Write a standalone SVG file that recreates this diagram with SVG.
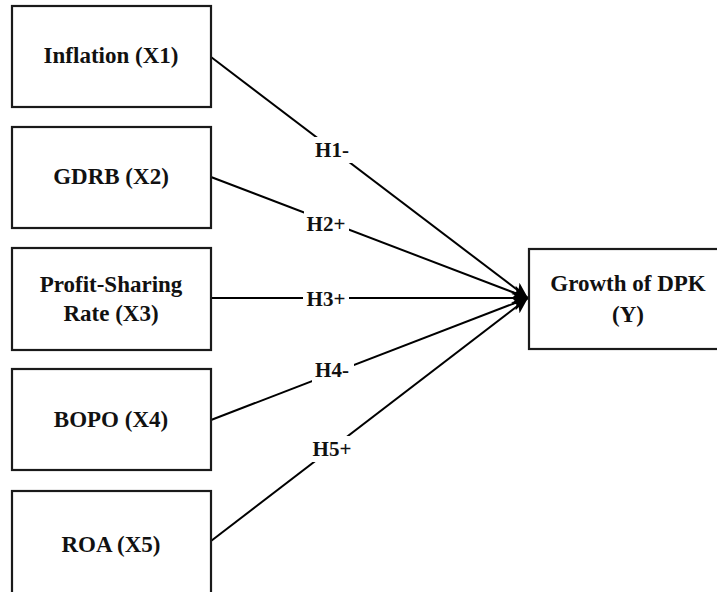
<svg xmlns="http://www.w3.org/2000/svg" width="717" height="592" viewBox="0 0 717 592">
<style>
.box{fill:#fff;stroke:#1a1a1a;stroke-width:2.2}
.t{font-family:'Liberation Serif','Times New Roman',serif;font-weight:700;font-size:23px;fill:#111;text-anchor:middle}
.lab{font-family:'Liberation Serif','Times New Roman',serif;font-weight:700;font-size:21px;fill:#111;text-anchor:middle}
.edge{stroke:#000;stroke-width:2;fill:none;marker-end:url(#ah)}
.bg{fill:#fff}
</style>
<defs>
<marker id="ah" markerUnits="userSpaceOnUse" markerWidth="18" markerHeight="14" refX="16" refY="7" orient="auto">
<path d="M0,0 L16,7 L0,14 L4,7 Z" fill="#000"/>
</marker>
</defs>
<g id="connectors">
<line class="edge" x1="211" y1="57" x2="528" y2="298"/>
<line class="edge" x1="211" y1="177" x2="528" y2="298"/>
<line class="edge" x1="211" y1="298" x2="528" y2="298"/>
<line class="edge" x1="211" y1="420" x2="528" y2="298"/>
<line class="edge" x1="211" y1="541" x2="528" y2="298"/>
<rect class="bg" x="312" y="137" width="42" height="26"/>
<text class="lab" x="332" y="157">H1-</text>
<rect class="bg" x="304" y="211" width="45" height="26"/>
<text class="lab" x="326" y="231">H2+</text>
<rect class="bg" x="303" y="286" width="46" height="26"/>
<text class="lab" x="326" y="306">H3+</text>
<rect class="bg" x="312" y="357" width="42" height="26"/>
<text class="lab" x="332" y="377">H4-</text>
<rect class="bg" x="310" y="436" width="45" height="26"/>
<text class="lab" x="332" y="456">H5+</text>
</g>
<g id="x1">
<rect class="box" x="12" y="6" width="199" height="101"/>
<text class="t" x="111" y="63">Inflation (X1)</text>
</g>
<g id="x2">
<rect class="box" x="12" y="127" width="199" height="101"/>
<text class="t" x="111" y="184">GDRB (X2)</text>
</g>
<g id="x3">
<rect class="box" x="12" y="248" width="199" height="102"/>
<text class="t" x="111" y="292">Profit-Sharing</text>
<text class="t" x="111" y="321">Rate (X3)</text>
</g>
<g id="x4">
<rect class="box" x="12" y="369" width="199" height="101"/>
<text class="t" x="111" y="427">BOPO (X4)</text>
</g>
<g id="x5">
<rect class="box" x="12" y="491" width="199" height="104"/>
<text class="t" x="111" y="552">ROA (X5)</text>
</g>
<g id="y">
<rect class="box" x="529" y="249" width="190" height="100"/>
<text class="t" x="628" y="291">Growth of DPK</text>
<text class="t" x="628" y="322">(Y)</text>
</g>
</svg>
